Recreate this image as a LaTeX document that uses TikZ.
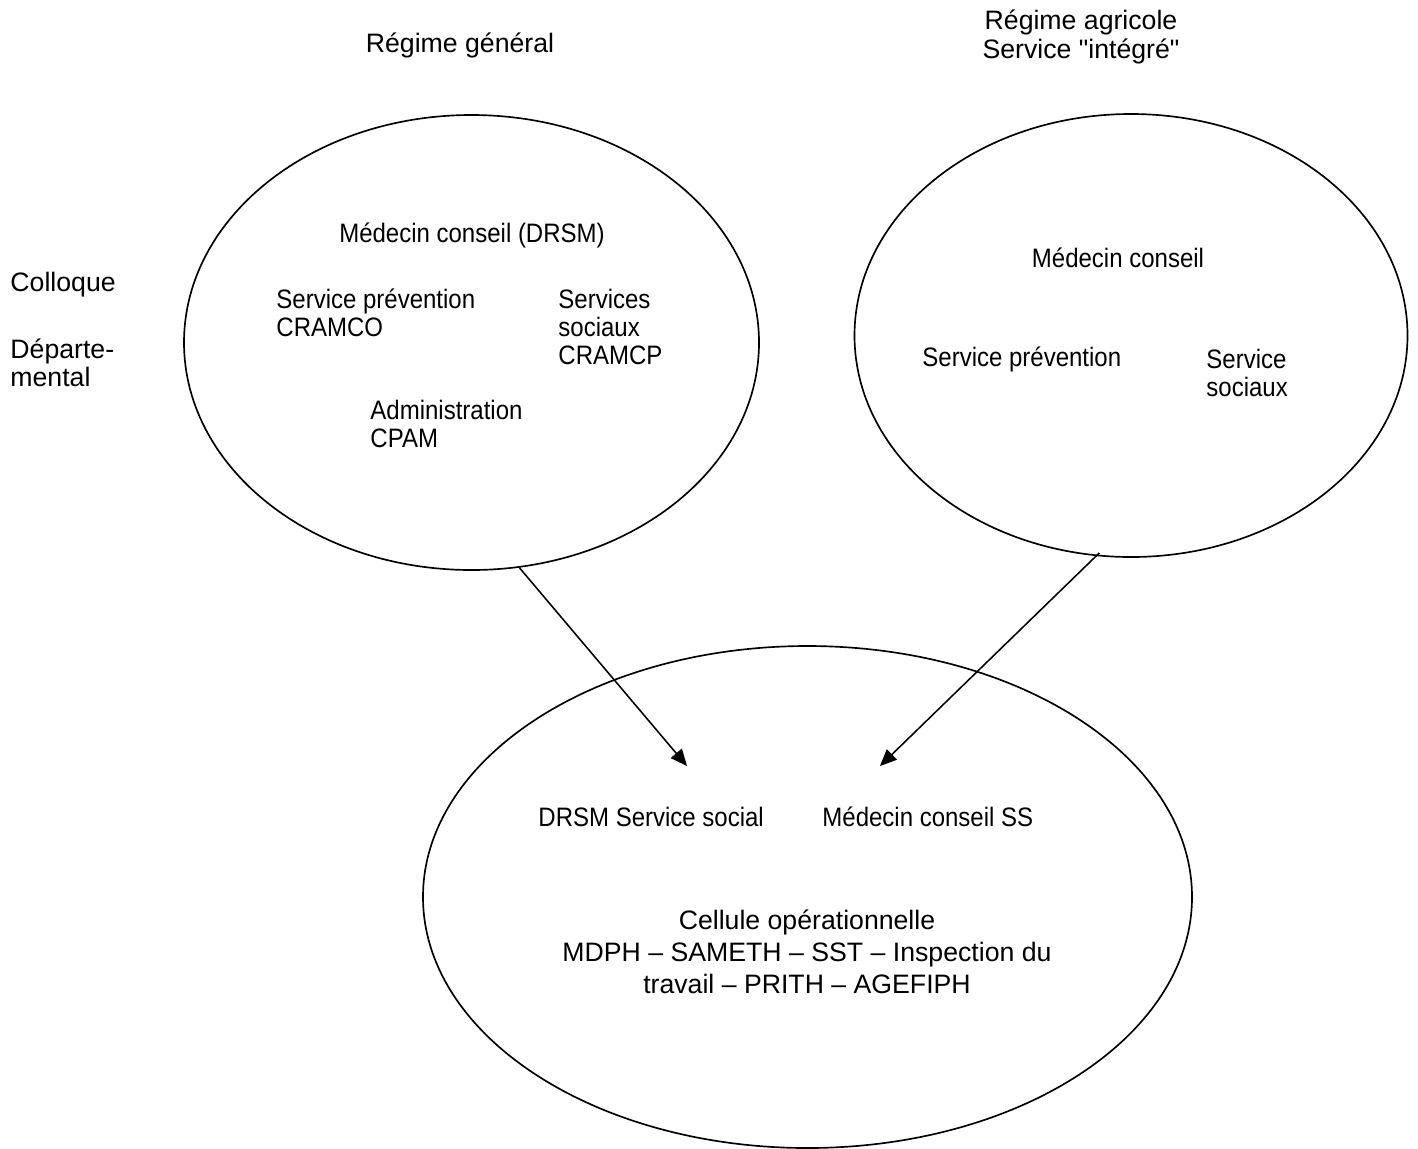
\documentclass[tikz,border=0pt]{standalone}
\usepackage{fontspec}
\setmainfont{Liberation Sans}
\newfontfamily\slimfont[FakeStretch = 0.9]{Liberation Sans}
\usepackage{tikz}
\usetikzlibrary{arrows.meta, shapes.geometric}
\tikzstyle{txt} = [inner sep = 0pt, font = \fontsize{12}{12.6}\selectfont]
\tikzstyle{slim} = [font = \fontsize{12}{12.6}\slimfont]
\tikzstyle{txtleft} = [txt, anchor = west, align = left]
\tikzstyle{txtmid} = [txt, align = center]
\tikzstyle{regime} = [ellipse, draw, line width = 0.75pt, inner sep = 0pt]
\tikzstyle{feed} = [->, line width = 0.7pt]

\begin{document}
\begin{tikzpicture}[x = 0.45pt, y = -0.45pt, >= {Triangle[length = 7.5pt, width = 6.5pt]}]
        \useasboundingbox (0,0) rectangle (1418,1148);
        % draw ellipses
        \node[regime, minimum width = 258.75pt, minimum height = 204.75pt] (gen) at (471.5,342.5) {};
        \node[regime, minimum width = 248.85pt, minimum height = 199.35pt] (agr) at (1131,335.5) {};
        \node[regime, minimum width = 346.05pt, minimum height = 225.9pt] (cel) at (807.5,897) {};
        % draw headings and side labels
        \node[txtmid] (genT) at (460,45) {Régime général};
        \node[txtmid, font = \fontsize{12}{13}\selectfont] (agrT) at (1081,37) {Régime agricole\\Service \textquotedbl intégré\textquotedbl};
        \node[txtleft] (coll) at (10,285) {Colloque};
        \node[txtleft] (dep) at (10,362.5) {Départe-\\mental};
        % draw texts of the first ellipse
        \node[txtmid, slim] (medG) at (472,235) {Médecin conseil (DRSM)};
        \node[txtleft, slim] (prevG) at (276,313) {Service prévention\\CRAMCO};
        \node[txtleft, slim] (socG) at (558,327) {Services\\sociaux\\CRAMCP};
        \node[txtleft, slim] (admG) at (370,423.5) {Administration\\CPAM};
        % draw texts of the second ellipse
        \node[txtmid, slim] (medA) at (1118,258) {Médecin conseil};
        \node[txtleft, slim] (prevA) at (922,359) {Service prévention};
        \node[txtleft, slim] (socA) at (1206,373) {Service\\sociaux};
        % draw texts of the third ellipse
        \node[txtleft, slim] (drsm) at (538,817) {DRSM Service social};
        \node[txtleft, slim] (medSS) at (822,817) {Médecin conseil SS};
        \node[txtmid, font = \fontsize{12}{14.4}\selectfont] (cellT) at (807,952)
            {Cellule opérationnelle\\MDPH -- SAMETH -- SST -- Inspection du\\travail -- PRITH -- AGEFIPH};
        % draw arrows
        \coordinate (tipG) at (687,766);
        \coordinate (tipA) at (880,766);
        \draw[feed] (gen.-78.5) -- (tipG);
        \draw[feed, shorten <= -2pt] (agr.-99.3) -- (tipA);
\end{tikzpicture}
\end{document}
